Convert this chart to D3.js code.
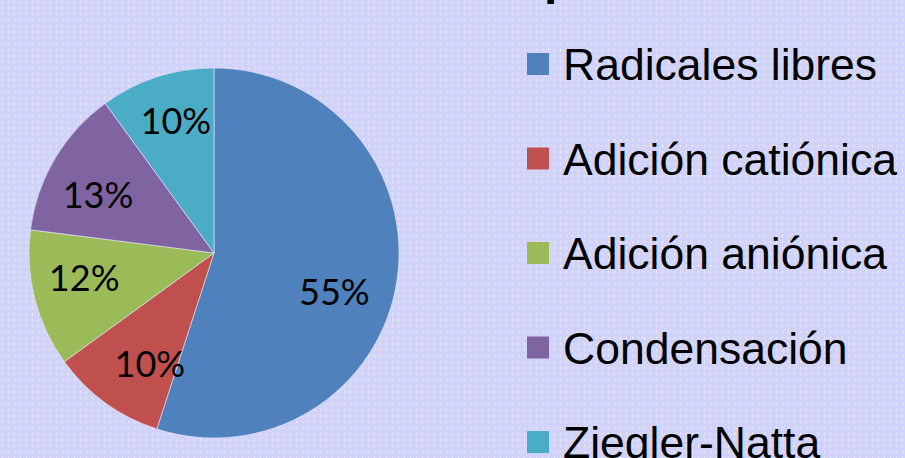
<!DOCTYPE html>
<html>
<head>
<meta charset="utf-8">
<script src="https://cdn.jsdelivr.net/npm/d3@7"></script>
<style>
  html, body { margin: 0; padding: 0; background: #d2d3fa; }
  svg { display: block; }
</style>
</head>
<body>
<svg id="chart" width="905" height="458"></svg>
<script>
// Polymerisation mechanisms, share of each
const categories = ["Radicales libres", "Adición catiónica", "Adición aniónica", "Condensación", "Ziegler-Natta"];
const values = [55, 10, 12, 13, 10];
const colors = ["#4f81bd", "#c0504d", "#9bbb59", "#8064a2", "#4bacc6"];
const titleText = "polimerización";

const W = 905, H = 458;
const svg = d3.select("#chart");

// dotted slide background
const defs = svg.append("defs");
const pat = defs.append("pattern")
  .attr("id", "dots").attr("width", 6).attr("height", 6)
  .attr("patternUnits", "userSpaceOnUse");
pat.append("rect").attr("width", 6).attr("height", 6).attr("fill", "#d2d3fa");
pat.append("rect").attr("x", 2).attr("y", 1).attr("width", 1).attr("height", 2)
  .attr("fill", "#eceefe");
svg.append("rect").attr("width", W).attr("height", H).attr("fill", "url(#dots)");

// title sits mostly above the visible area
svg.append("text")
  .attr("x", 544).attr("y", -6)
  .attr("font-family", "Liberation Sans, Arial, sans-serif")
  .attr("font-weight", "bold")
  .attr("font-size", 48)
  .attr("fill", "#000")
  .text(titleText);

// pie
const cx = 214, cy = 253, R = 185;
const pie = d3.pie().sort(null).value(d => d.v);
const data = categories.map((c, i) => ({ c, v: values[i], col: colors[i] }));
const arcs = pie(data);
const arc = d3.arc().innerRadius(0).outerRadius(R);
const labelArc = d3.arc().innerRadius(133).outerRadius(133);
const total = d3.sum(values);
const fmt = v => Math.round(v / total * 100) + "%";

const g = svg.append("g").attr("transform", `translate(${cx},${cy})`);
g.selectAll("path.slice").data(arcs).join("path")
  .attr("class", "slice")
  .attr("d", arc)
  .attr("fill", d => d.data.col)
  .attr("stroke", "#e8e8ff")
  .attr("stroke-width", 0.6);

// label nudges per slice (px), applied after the centroid placement
const nudge = [[-11, 19], [14, 4], [-1, -7.5], [-1.5, 10], [3, -5.5]];
g.selectAll("text.lbl").data(arcs).join("text")
  .attr("class", "lbl")
  .attr("transform", (d, i) => {
    const [x, y] = labelArc.centroid(d);
    return `translate(${x + nudge[i][0]},${y + nudge[i][1]})`;
  })
  .attr("text-anchor", "middle")
  .attr("dy", "0.35em")
  .attr("font-family", "Lato, 'Open Sans', sans-serif")
  .attr("font-size", 36)
  .attr("fill", "#000")
  .text(d => fmt(d.data.v));

// legend
const y0 = 64, step = 94.5;
const leg = svg.append("g");
const rows = leg.selectAll("g").data(data).join("g")
  .attr("transform", (d, i) => `translate(527,${y0 + i * step})`);
rows.append("rect")
  .attr("x", 0).attr("y", -11).attr("width", 22).attr("height", 22)
  .attr("fill", d => d.col);
rows.append("text")
  .attr("x", 36).attr("y", 16)
  .attr("font-family", "Liberation Sans, Arial, sans-serif")
  .attr("font-size", 44.5)
  .attr("fill", "#000")
  .text(d => d.c);
</script>
</body>
</html>
